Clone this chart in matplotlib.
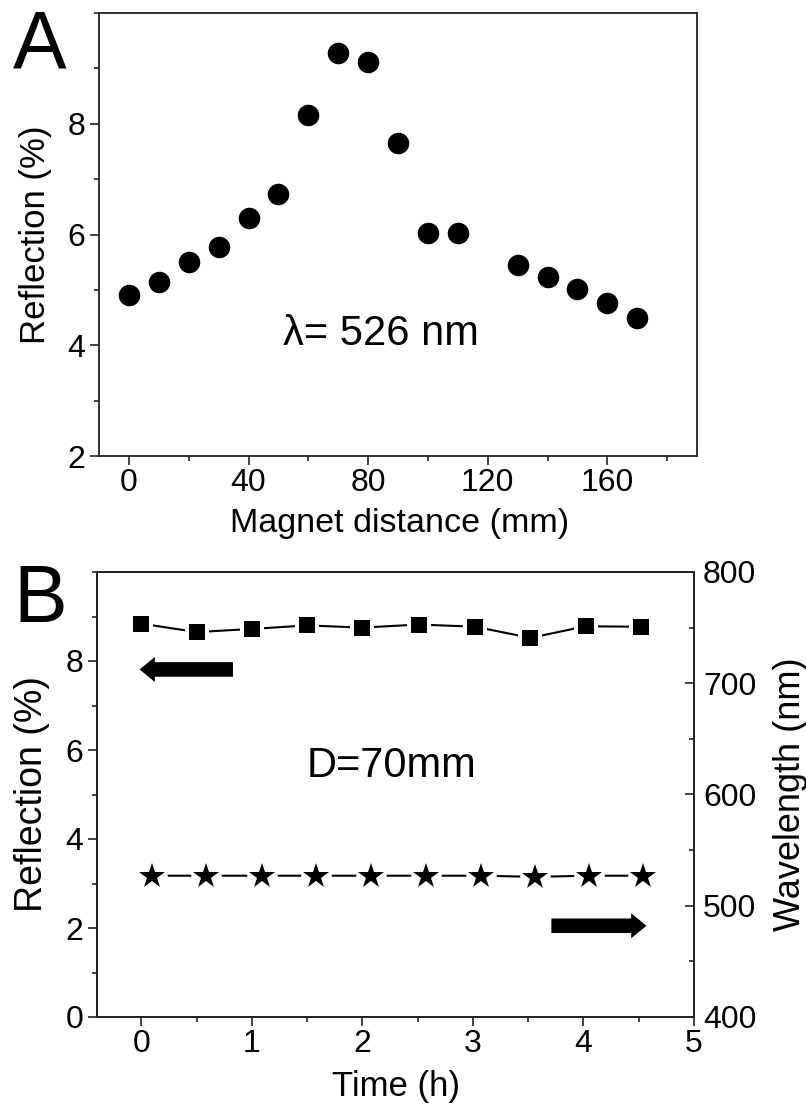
import matplotlib
matplotlib.use('Agg')
import matplotlib.pyplot as plt
from matplotlib.ticker import MultipleLocator, FixedLocator
from matplotlib.patches import FancyArrowPatch

plt.rcParams['font.family'] = ['Liberation Sans', 'DejaVu Sans']

# panel A: reflection vs magnet distance
distance = [0, 10, 20, 30, 40, 50, 60, 70, 80, 90, 100, 110, 130, 140, 150, 160, 170]
reflection_a = [4.90, 5.15, 5.51, 5.78, 6.29, 6.73, 8.16, 9.28, 9.11, 7.65,
                6.03, 6.02, 5.45, 5.24, 5.02, 4.77, 4.49]

# panel B: stability over time
time_refl = [0, 0.5, 1.0, 1.5, 2.0, 2.51, 3.02, 3.52, 4.02, 4.52]
reflection_b = [8.84, 8.65, 8.72, 8.80, 8.75, 8.82, 8.77, 8.52, 8.78, 8.77]
time_wl = [0.1, 0.59, 1.09, 1.58, 2.08, 2.58, 3.07, 3.56, 4.05, 4.54]
wavelength = [527, 527, 527, 527, 527, 527, 527, 526, 527, 527]

W, H = 806, 1104
fig = plt.figure(figsize=(W / 100, H / 100), dpi=100)

def px_axes(left, right, top, bottom):
    return [left / W, 1 - bottom / H, (right - left) / W, (bottom - top) / H]

axA = fig.add_axes(px_axes(99, 697, 13, 456))
axB = fig.add_axes(px_axes(97, 694, 572, 1017))

for ax in (axA, axB):
    for s in ax.spines.values():
        s.set_linewidth(1.3)
        s.set_color('#222222')

# ---- A ----
axA.plot(distance, reflection_a, 'o', color='black', ms=15.5, mew=0)
axA.set_xlim(-10, 190)
axA.set_ylim(2, 10)
axA.xaxis.set_major_locator(FixedLocator([0, 40, 80, 120, 160]))
axA.xaxis.set_minor_locator(MultipleLocator(20))
axA.yaxis.set_major_locator(FixedLocator([2, 4, 6, 8]))
axA.yaxis.set_minor_locator(MultipleLocator(1))
axA.tick_params(which='both', direction='out', top=False, right=False, width=1.2, color='#222222')
axA.tick_params(which='major', length=6.5, labelsize=23)
axA.tick_params(which='minor', length=3.5)
axA.tick_params(axis='x', pad=2)
axA.tick_params(axis='y', pad=3.5)
axA.set_xlabel('Magnet distance (mm)', fontsize=24.5)
axA.set_ylabel('Reflection (%)', fontsize=25)
axA.xaxis.set_label_coords(0.503, -0.117)
axA.yaxis.set_label_coords(-0.079, 0.5)
axA.text(84.3, 4.2, 'λ= 526 nm', ha='center', va='center', fontsize=30)

# ---- B ----
axB.plot(time_refl, reflection_b, '-', color='black', lw=1.5, zorder=1)
axB.plot(time_refl, reflection_b, 's', color='white', ms=17.5, mew=0, zorder=2)
axB.plot(time_refl, reflection_b, 's', color='black', ms=11.3, mew=0, zorder=3)
axB.set_xlim(-0.4, 5)
axB.set_ylim(0, 10)
axB.xaxis.set_major_locator(MultipleLocator(1))
axB.xaxis.set_minor_locator(MultipleLocator(0.5))
axB.yaxis.set_major_locator(FixedLocator([0, 2, 4, 6, 8]))
axB.yaxis.set_minor_locator(MultipleLocator(1))
axB.tick_params(which='both', direction='out', top=False, right=False, width=1.2, color='#222222')
axB.tick_params(which='major', length=6.5, labelsize=23)
axB.tick_params(which='minor', length=3.5)
axB.tick_params(axis='x', pad=2)
axB.tick_params(axis='y', pad=3.5)
axB.set_xlabel('Time (h)', fontsize=25)
axB.set_ylabel('Reflection (%)', fontsize=27)
axB.xaxis.set_label_coords(0.5, -0.12)
axB.yaxis.set_label_coords(-0.079, 0.5)
axB.text(2.26, 5.65, 'D=70mm', ha='center', va='center', fontsize=30)

axB2 = axB.twinx()
axB2.plot(time_wl, wavelength, '-', color='black', lw=1.5, zorder=1)
axB2.plot(time_wl, wavelength, 'o', color='white', ms=22, mew=0, zorder=2)
axB2.plot(time_wl, wavelength, '*', color='black', ms=19, mew=0, zorder=3)
axB2.set_ylim(400, 800)
axB2.yaxis.set_major_locator(MultipleLocator(100))
axB2.yaxis.set_minor_locator(MultipleLocator(50))
axB2.tick_params(which='both', direction='in', width=1.2, color='#222222')
axB2.tick_params(which='major', length=6.5, labelsize=23, pad=6.5)
axB2.tick_params(which='minor', length=3.5)
axB2.set_ylabel('Wavelength (nm)', fontsize=26)
axB2.yaxis.set_label_coords(1.132, 0.5)
for s in axB2.spines.values():
    s.set_linewidth(1.3)
    s.set_color('#222222')

# direction arrows
style = 'simple,head_length=11,head_width=18,tail_width=10.5'
axB.add_patch(FancyArrowPatch((0.83, 7.81), (-0.015, 7.81), arrowstyle=style,
                              mutation_scale=1, color='black', lw=0,
                              shrinkA=0, shrinkB=0, zorder=4))
axB.add_patch(FancyArrowPatch((3.71, 2.05), (4.57, 2.05), arrowstyle=style,
                              mutation_scale=1, color='black', lw=0,
                              shrinkA=0, shrinkB=0, zorder=4))

# panel letters
fig.text(13 / W, 1 - 67 / H, 'A', fontsize=58, ha='left', va='baseline')
fig.text(13 / W, 1 - 622 / H, 'B', fontsize=58, ha='left', va='baseline')

fig.savefig('out.png', dpi=100)
